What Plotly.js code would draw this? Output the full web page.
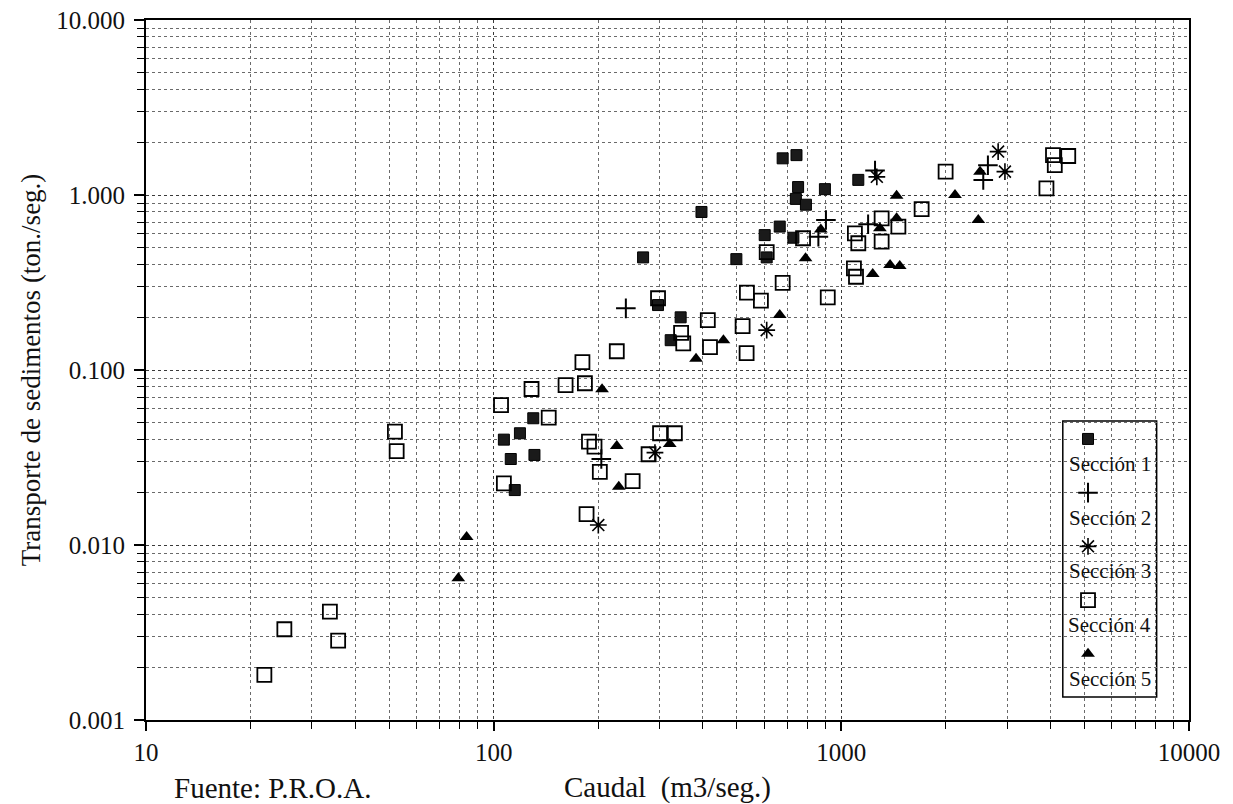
<!DOCTYPE html>
<html>
<head>
<meta charset="utf-8">
<script src="https://cdn.plot.ly/plotly-3.0.1.min.js"></script>
<style>
  html, body { margin: 0; padding: 0; background: #ffffff; }
  #chart { width: 1233px; height: 804px; }
</style>
</head>
<body>
<div id="chart"></div>
<script>
// ---------------- data ----------------
const seriesNames = ["Sección 1", "Sección 2", "Sección 3", "Sección 4", "Sección 5"];

// Sección 1 (filled squares)
const s1Caudal = [678, 743, 1119, 751, 897, 740, 791, 396, 665, 602, 728, 269, 499, 610, 297, 345, 323, 130, 107, 119, 112, 131, 115];
const s1Transporte = [1.62, 1.69, 1.22, 1.11, 1.08, 0.95, 0.88, 0.80, 0.66, 0.59, 0.57, 0.44, 0.43, 0.44, 0.235, 0.20, 0.148, 0.053, 0.040, 0.0435, 0.031, 0.0327, 0.0206];

// Sección 2 (plus)
const s2Caudal = [240, 204, 903, 1194, 859, 1250, 2640, 2560];
const s2Transporte = [0.225, 0.031, 0.72, 0.68, 0.578, 1.38, 1.48, 1.22];

// Sección 3 (asterisk)
const s3Caudal = [291, 610, 200, 1265, 2825, 2955];
const s3Transporte = [0.0337, 0.169, 0.013, 1.27, 1.77, 1.36];

// Sección 4 (open squares)
const s4Caudal = [21.9, 25.0, 33.8, 35.7, 52.0, 52.6, 128.5, 105, 107, 144, 161, 183, 180, 226, 188, 195, 202, 251, 185, 301, 332, 279, 297, 346, 351, 413, 419, 520, 534, 535, 587, 678, 610, 776, 914, 1094, 1119, 1087, 1102, 1306, 1459, 1306, 1702, 1995, 3890, 4063, 4494, 4111];
const s4Transporte = [0.00181, 0.0033, 0.00416, 0.00284, 0.0444, 0.0344, 0.0779, 0.063, 0.0225, 0.0534, 0.082, 0.084, 0.111, 0.128, 0.039, 0.0365, 0.0262, 0.0232, 0.015, 0.0435, 0.0435, 0.033, 0.257, 0.163, 0.142, 0.193, 0.135, 0.178, 0.125, 0.277, 0.249, 0.315, 0.472, 0.566, 0.26, 0.604, 0.53, 0.381, 0.341, 0.736, 0.659, 0.541, 0.83, 1.36, 1.09, 1.69, 1.67, 1.48];

// Sección 5 (filled triangles)
const s5Caudal = [83.6, 79.1, 205, 226, 229, 321, 382, 458, 665, 789, 873, 1442, 1291, 1442, 1231, 1381, 1472, 2123, 2477, 2506];
const s5Transporte = [0.0111, 0.00645, 0.0776, 0.0368, 0.0215, 0.0378, 0.116, 0.148, 0.206, 0.435, 0.635, 0.736, 0.645, 0.99, 0.354, 0.398, 0.393, 1.0, 0.72, 1.36];

// ticks
const xTickVals = [10, 100, 1000, 10000];
const xTickText = ["10", "100", "1000", "10000"];
const yTickVals = [0.001, 0.01, 0.1, 1, 10];
const yTickText = ["0.001", "0.010", "0.100", "1.000", "10.000"];

// texts
const xTitle = "Caudal&nbsp;&nbsp;(m3/seg.)";
const yTitle = "Transporte de sedimentos (ton./seg.)";
const sourceText = "Fuente: P.R.O.A.";

// ---------------- chart ----------------
const serif = "Liberation Serif, Times New Roman, serif";
const ink = "#111111";

const markerStyles = [
  { symbol: "square", size: 11, color: "#1a1a1a", line: { width: 1, color: "#000" } },
  { symbol: "cross-thin", size: 14, color: "#000", line: { width: 2, color: "#000" } },
  { symbol: "asterisk", size: 14, color: "#000", line: { width: 1.6, color: "#000" } },
  { symbol: "square-open", size: 14, color: "#000", line: { width: 1.8, color: "#000" } },
  { symbol: "triangle-up", size: 12, color: "#000", line: { width: 0, color: "#000" } }
];

const xs = [s1Caudal, s2Caudal, s3Caudal, s4Caudal, s5Caudal];
const ys = [s1Transporte, s2Transporte, s3Transporte, s4Transporte, s5Transporte];

const traces = xs.map((x, i) => ({
  type: "scatter",
  mode: "markers",
  x: x,
  y: ys[i],
  name: " ",
  hovertext: seriesNames[i],
  marker: markerStyles[i],
  showlegend: true
}));

// legend labels placed under each legend symbol (paper units)
const legendLabelY = [0.3657, 0.2886, 0.2129, 0.1357, 0.0586];
const annotations = seriesNames.map((n, i) => ({
  xref: "paper", yref: "paper",
  x: 0.924, y: legendLabelY[i],
  xanchor: "center", yanchor: "middle",
  text: n, showarrow: false,
  font: { family: serif, size: 21, color: ink }
}));
annotations.push({
  xref: "paper", yref: "paper",
  x: 0.025, y: -0.097, xanchor: "left", yanchor: "middle",
  text: sourceText, showarrow: false,
  font: { family: serif, size: 29, color: ink }
});

const gridMajor = "#3a3a3a";
const gridMinor = "#6a6a6a";

const layout = {
  width: 1233,
  height: 804,
  margin: { l: 146, r: 44, t: 20, b: 84 },
  paper_bgcolor: "#ffffff",
  plot_bgcolor: "#ffffff",
  showlegend: true,
  font: { family: serif, color: ink },
  xaxis: {
    type: "log",
    range: [1, 4],
    tickmode: "array",
    tickvals: xTickVals,
    ticktext: xTickText,
    ticks: "outside",
    ticklen: 9,
    tickwidth: 1.5,
    tickcolor: "#000",
    showline: true,
    linewidth: 2,
    linecolor: "#000",
    mirror: true,
    zeroline: false,
    showgrid: true,
    gridcolor: gridMajor,
    griddash: "dot",
    gridwidth: 1,
    minor: { dtick: "D1", ticks: "outside", ticklen: 7, tickwidth: 1.2, tickcolor: "#000", showgrid: true, gridcolor: gridMinor, griddash: "dot", gridwidth: 1 },
    tickfont: { family: serif, size: 25, color: ink },
    title: { text: xTitle, font: { family: serif, size: 29, color: ink }, standoff: 12 }
  },
  yaxis: {
    type: "log",
    range: [-3, 1],
    tickmode: "array",
    tickvals: yTickVals,
    ticktext: yTickText,
    ticks: "outside",
    ticklen: 10,
    tickwidth: 1.5,
    tickcolor: "#000",
    ticklabelstandoff: 4,
    showline: true,
    linewidth: 2,
    linecolor: "#000",
    mirror: true,
    zeroline: false,
    showgrid: true,
    gridcolor: gridMajor,
    griddash: "dot",
    gridwidth: 1,
    minor: { dtick: "D1", ticks: "outside", ticklen: 7, tickwidth: 1.2, tickcolor: "#000", showgrid: true, gridcolor: gridMinor, griddash: "dot", gridwidth: 1 },
    tickfont: { family: serif, size: 25, color: ink },
    title: { text: yTitle, font: { family: serif, size: 27, color: ink }, standoff: 8 }
  },
  legend: {
    x: 0.884, y: 0.447, xanchor: "left", yanchor: "top",
    bgcolor: "rgba(0,0,0,0)", borderwidth: 0,
    font: { family: serif, size: 39, color: ink },
    tracegroupgap: 0,
    itemclick: false, itemdoubleclick: false
  },
  shapes: [{
    type: "rect", xref: "paper", yref: "paper",
    x0: 0.879, x1: 0.969, y0: 0.033, y1: 0.427,
    line: { color: "#000", width: 1.5 },
    fillcolor: "#ffffff",
    layer: "between"
  }],
  annotations: annotations
};

Plotly.newPlot("chart", traces, layout, { displayModeBar: false, responsive: false });
</script>
</body>
</html>
